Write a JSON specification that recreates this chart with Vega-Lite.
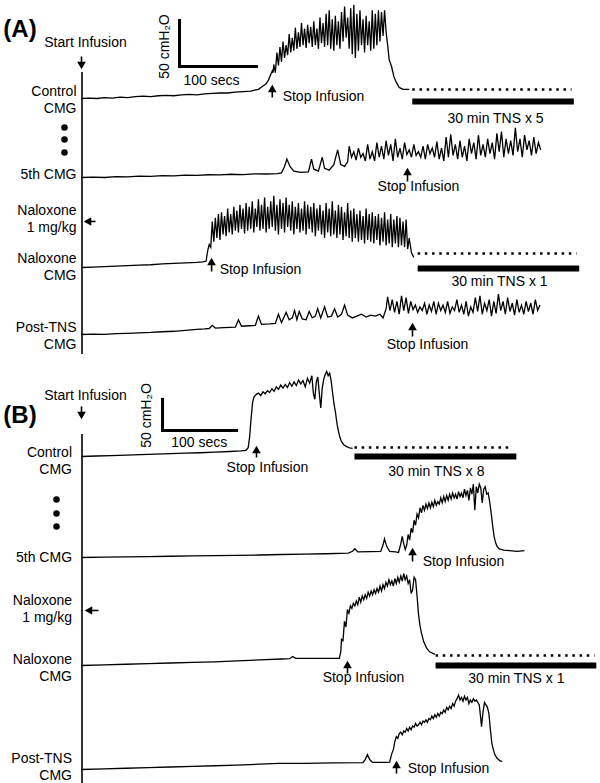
{
"$schema": "https://vega.github.io/schema/vega-lite/v6.json",
"padding": {"left": 2.5, "top": 1.5, "right": 0, "bottom": 0},
"config": {"view": {"stroke": null}, "font": "Liberation Sans"},
"datasets": {
"A1": [{"t":0,"p":8},{"t":10,"p":8.5},{"t":20,"p":8},{"t":30,"p":9},{"t":40,"p":8.5},{"t":50,"p":9.5},{"t":60,"p":9},{"t":70,"p":10},{"t":80,"p":10.5},{"t":90,"p":10},{"t":100,"p":11},{"t":110,"p":11.5},{"t":120,"p":11},{"t":130,"p":12},{"t":140,"p":12.5},{"t":150,"p":12},{"t":160,"p":13},{"t":170,"p":13.5},{"t":180,"p":14},{"t":190,"p":14},{"t":200,"p":15},{"t":210,"p":15.5},{"t":220,"p":16},{"t":225,"p":17},{"t":230,"p":18},{"t":235,"p":21},{"t":240,"p":24},{"t":243,"p":28},{"t":246,"p":34},{"t":248,"p":38},{"t":249,"p":36},
{"t":250,"p":45},{"t":252,"p":36},{"t":254,"p":58},{"t":256,"p":44},{"t":258,"p":64},{"t":260,"p":48},{"t":262,"p":70},{"t":264,"p":52},{"t":266,"p":66},{"t":268,"p":55},{"t":270,"p":78},{"t":272,"p":58},{"t":274,"p":74},{"t":276,"p":60},{"t":278,"p":85},{"t":280,"p":62},{"t":282,"p":80},{"t":284,"p":64},{"t":286,"p":90},{"t":288,"p":66},{"t":290,"p":84},{"t":292,"p":63},{"t":294,"p":88},{"t":296,"p":68},{"t":298,"p":86},{"t":300,"p":64},{"t":302,"p":92},{"t":304,"p":66},{"t":306,"p":84},{"t":308,"p":62},{"t":310,"p":96},{"t":312,"p":68},{"t":314,"p":90},{"t":316,"p":64},{"t":318,"p":100},{"t":320,"p":66},{"t":322,"p":104},{"t":324,"p":62},{"t":326,"p":94},{"t":328,"p":60},{"t":330,"p":98},{"t":332,"p":66},{"t":334,"p":92},{"t":336,"p":62},{"t":338,"p":102},{"t":340,"p":70},{"t":342,"p":108},{"t":344,"p":74},{"t":346,"p":96},{"t":348,"p":62},{"t":350,"p":106},{"t":352,"p":56},{"t":354,"p":110},{"t":356,"p":52},{"t":358,"p":100},{"t":360,"p":60},{"t":362,"p":104},{"t":364,"p":66},{"t":366,"p":94},{"t":368,"p":58},{"t":370,"p":98},{"t":372,"p":66},{"t":374,"p":92},{"t":376,"p":60},{"t":378,"p":104},{"t":380,"p":62},{"t":382,"p":100},{"t":384,"p":66},{"t":386,"p":104},{"t":388,"p":70},{"t":390,"p":102},{"t":392,"p":76},{"t":394,"p":104},{"t":396,"p":80},{"t":398,"p":66},{"t":400,"p":50},{"t":403,"p":43},{"t":406,"p":32},{"t":409,"p":26},{"t":413,"p":20},{"t":418,"p":18},{"t":426,"p":18}],
"A2": [{"t":0,"p":8},{"t":15,"p":8.5},{"t":30,"p":8},{"t":45,"p":9},{"t":60,"p":8.7},{"t":75,"p":9.5},{"t":90,"p":9.2},{"t":105,"p":10},{"t":120,"p":9.8},{"t":135,"p":10.5},{"t":150,"p":10.2},{"t":165,"p":11},{"t":180,"p":10.8},{"t":195,"p":11.5},{"t":210,"p":11.2},{"t":225,"p":12},{"t":240,"p":11.8},{"t":255,"p":12.3},{"t":260,"p":13},{"t":264,"p":20},{"t":267,"p":28},{"t":271,"p":20},{"t":276,"p":15},{"t":285,"p":13.5},{"t":295,"p":14},{"t":299,"p":28},{"t":302,"p":17},{"t":308,"p":15},{"t":313,"p":30},{"t":316,"p":18},{"t":322,"p":16},{"t":328,"p":22},{"t":333,"p":38},{"t":337,"p":22},{"t":342,"p":20},{"t":346,"p":25},{"t":348,"p":42},{"t":351,"p":30},{"t":354,"p":36},{"t":357,"p":27},{"t":360,"p":40},{"t":363,"p":30},{"t":366,"p":34},{"t":369,"p":26},{"t":372,"p":44},{"t":375,"p":28},{"t":378,"p":36},{"t":381,"p":26},{"t":384,"p":46},{"t":387,"p":30},{"t":390,"p":42},{"t":393,"p":28},{"t":396,"p":48},{"t":399,"p":32},{"t":402,"p":44},{"t":405,"p":26},{"t":408,"p":50},{"t":411,"p":30},{"t":414,"p":40},{"t":417,"p":28},{"t":420,"p":46},{"t":423,"p":33},{"t":426,"p":38},{"t":429,"p":30},{"t":432,"p":44},{"t":435,"p":32},{"t":438,"p":36},{"t":441,"p":30},{"t":444,"p":42},{"t":447,"p":28},{"t":450,"p":44},{"t":453,"p":34},{"t":456,"p":40},{"t":459,"p":30},{"t":462,"p":47},{"t":465,"p":28},{"t":468,"p":40},{"t":471,"p":26},{"t":474,"p":52},{"t":477,"p":30},{"t":480,"p":55},{"t":483,"p":32},{"t":486,"p":44},{"t":489,"p":28},{"t":492,"p":48},{"t":495,"p":30},{"t":498,"p":42},{"t":501,"p":26},{"t":504,"p":50},{"t":507,"p":34},{"t":510,"p":46},{"t":513,"p":28},{"t":516,"p":54},{"t":519,"p":32},{"t":522,"p":44},{"t":525,"p":30},{"t":528,"p":50},{"t":531,"p":34},{"t":534,"p":46},{"t":537,"p":28},{"t":540,"p":56},{"t":543,"p":36},{"t":546,"p":58},{"t":549,"p":30},{"t":552,"p":50},{"t":555,"p":34},{"t":558,"p":48},{"t":561,"p":32},{"t":564,"p":62},{"t":567,"p":36},{"t":570,"p":50},{"t":573,"p":30},{"t":576,"p":54},{"t":579,"p":38},{"t":582,"p":48},{"t":585,"p":32},{"t":588,"p":52},{"t":591,"p":34},{"t":594,"p":46},{"t":597,"p":38}],
"A3": [{"t":0,"p":8},{"t":15,"p":8.5},{"t":30,"p":9},{"t":45,"p":9.5},{"t":60,"p":10},{"t":75,"p":10.5},{"t":90,"p":11},{"t":105,"p":12},{"t":120,"p":12.5},{"t":135,"p":13},{"t":150,"p":13.5},{"t":158,"p":14},{"t":162,"p":15},{"t":164,"p":26},{"t":166,"p":33},{"t":168,"p":30},{"t":170,"p":58},{"t":172,"p":36},{"t":174,"p":62},{"t":176,"p":40},{"t":178,"p":66},{"t":180,"p":38},{"t":182,"p":68},{"t":184,"p":44},{"t":186,"p":64},{"t":188,"p":42},{"t":190,"p":72},{"t":192,"p":46},{"t":194,"p":66},{"t":196,"p":44},{"t":198,"p":74},{"t":200,"p":48},{"t":202,"p":70},{"t":204,"p":46},{"t":206,"p":76},{"t":208,"p":50},{"t":210,"p":72},{"t":212,"p":45},{"t":214,"p":78},{"t":216,"p":48},{"t":218,"p":74},{"t":220,"p":50},{"t":222,"p":80},{"t":224,"p":46},{"t":226,"p":72},{"t":228,"p":52},{"t":230,"p":82},{"t":232,"p":48},{"t":234,"p":76},{"t":236,"p":50},{"t":238,"p":84},{"t":240,"p":46},{"t":242,"p":74},{"t":244,"p":50},{"t":246,"p":80},{"t":248,"p":52},{"t":250,"p":86},{"t":252,"p":48},{"t":254,"p":76},{"t":256,"p":44},{"t":258,"p":82},{"t":260,"p":50},{"t":262,"p":78},{"t":264,"p":46},{"t":266,"p":84},{"t":268,"p":52},{"t":270,"p":76},{"t":272,"p":48},{"t":274,"p":80},{"t":276,"p":44},{"t":278,"p":74},{"t":280,"p":50},{"t":282,"p":78},{"t":284,"p":46},{"t":286,"p":72},{"t":288,"p":48},{"t":290,"p":80},{"t":292,"p":44},{"t":294,"p":76},{"t":296,"p":50},{"t":298,"p":74},{"t":300,"p":46},{"t":302,"p":78},{"t":304,"p":42},{"t":306,"p":72},{"t":308,"p":48},{"t":310,"p":76},{"t":312,"p":44},{"t":314,"p":70},{"t":316,"p":40},{"t":318,"p":78},{"t":320,"p":46},{"t":322,"p":72},{"t":324,"p":42},{"t":326,"p":80},{"t":328,"p":44},{"t":330,"p":70},{"t":332,"p":40},{"t":334,"p":76},{"t":336,"p":44},{"t":338,"p":74},{"t":340,"p":38},{"t":342,"p":68},{"t":344,"p":42},{"t":346,"p":78},{"t":348,"p":40},{"t":350,"p":70},{"t":352,"p":36},{"t":354,"p":72},{"t":356,"p":40},{"t":358,"p":66},{"t":360,"p":36},{"t":362,"p":70},{"t":364,"p":38},{"t":366,"p":64},{"t":368,"p":34},{"t":370,"p":72},{"t":372,"p":38},{"t":374,"p":66},{"t":376,"p":36},{"t":378,"p":68},{"t":380,"p":34},{"t":382,"p":64},{"t":384,"p":38},{"t":386,"p":66},{"t":388,"p":32},{"t":390,"p":62},{"t":392,"p":36},{"t":394,"p":68},{"t":396,"p":32},{"t":398,"p":60},{"t":400,"p":34},{"t":402,"p":66},{"t":404,"p":30},{"t":406,"p":60},{"t":408,"p":34},{"t":410,"p":64},{"t":412,"p":30},{"t":414,"p":62},{"t":416,"p":32},{"t":418,"p":58},{"t":420,"p":30},{"t":422,"p":60},{"t":424,"p":28},{"t":426,"p":40},{"t":429,"p":24},{"t":432,"p":19}],
"A4": [{"t":0,"p":8},{"t":15,"p":8.5},{"t":30,"p":8.2},{"t":45,"p":9},{"t":60,"p":9.3},{"t":75,"p":9.8},{"t":90,"p":10.2},{"t":105,"p":11},{"t":120,"p":11.5},{"t":135,"p":12.5},{"t":150,"p":13.5},{"t":160,"p":14},{"t":166,"p":14.5},{"t":170,"p":18},{"t":174,"p":15},{"t":185,"p":15.5},{"t":200,"p":16},{"t":204,"p":24},{"t":208,"p":17},{"t":218,"p":17.5},{"t":226,"p":18},{"t":230,"p":28},{"t":234,"p":19},{"t":245,"p":19.5},{"t":252,"p":20},{"t":256,"p":30},{"t":260,"p":21},{"t":266,"p":32},{"t":270,"p":24},{"t":274,"p":26},{"t":277,"p":34},{"t":280,"p":24},{"t":283,"p":33},{"t":287,"p":25},{"t":292,"p":24},{"t":296,"p":33},{"t":300,"p":26},{"t":304,"p":28},{"t":307,"p":36},{"t":311,"p":26},{"t":316,"p":38},{"t":320,"p":27},{"t":325,"p":28},{"t":329,"p":36},{"t":333,"p":27},{"t":338,"p":30},{"t":342,"p":40},{"t":346,"p":29},{"t":352,"p":26},{"t":358,"p":28},{"t":364,"p":30},{"t":370,"p":27},{"t":376,"p":29},{"t":382,"p":28},{"t":388,"p":30},{"t":392,"p":26},{"t":396,"p":36},{"t":398,"p":49},{"t":401,"p":34},{"t":404,"p":46},{"t":407,"p":32},{"t":410,"p":44},{"t":413,"p":30},{"t":416,"p":50},{"t":419,"p":34},{"t":422,"p":48},{"t":425,"p":31},{"t":428,"p":44},{"t":431,"p":35},{"t":434,"p":40},{"t":437,"p":32},{"t":440,"p":38},{"t":443,"p":34},{"t":446,"p":42},{"t":449,"p":30},{"t":452,"p":40},{"t":455,"p":33},{"t":458,"p":44},{"t":461,"p":30},{"t":464,"p":42},{"t":467,"p":34},{"t":470,"p":40},{"t":473,"p":32},{"t":476,"p":44},{"t":479,"p":31},{"t":482,"p":38},{"t":485,"p":34},{"t":488,"p":46},{"t":491,"p":32},{"t":494,"p":40},{"t":497,"p":30},{"t":500,"p":44},{"t":503,"p":28},{"t":506,"p":38},{"t":509,"p":32},{"t":512,"p":48},{"t":515,"p":33},{"t":518,"p":50},{"t":521,"p":30},{"t":524,"p":42},{"t":527,"p":34},{"t":530,"p":46},{"t":533,"p":28},{"t":536,"p":44},{"t":539,"p":31},{"t":542,"p":52},{"t":545,"p":34},{"t":548,"p":44},{"t":551,"p":30},{"t":554,"p":48},{"t":557,"p":33},{"t":560,"p":42},{"t":563,"p":29},{"t":566,"p":46},{"t":569,"p":32},{"t":572,"p":40},{"t":575,"p":30},{"t":578,"p":44},{"t":581,"p":33},{"t":584,"p":42},{"t":587,"p":30},{"t":590,"p":46},{"t":593,"p":34},{"t":596,"p":40}],
"B1": [{"t":0,"p":8},{"t":20,"p":8.8},{"t":40,"p":9.5},{"t":60,"p":10.2},{"t":80,"p":11},{"t":100,"p":11.8},{"t":120,"p":12.5},{"t":140,"p":13.3},{"t":160,"p":14},{"t":180,"p":15},{"t":200,"p":16},{"t":215,"p":17},{"t":222,"p":18},{"t":225,"p":22},{"t":227,"p":40},{"t":229,"p":70},{"t":231,"p":95},{"t":233,"p":104},{"t":236,"p":108},{"t":239,"p":110},{"t":242,"p":106},{"t":245,"p":112},{"t":248,"p":109},{"t":251,"p":114},{"t":254,"p":111},{"t":257,"p":117},{"t":260,"p":113},{"t":263,"p":120},{"t":266,"p":116},{"t":269,"p":123},{"t":272,"p":118},{"t":275,"p":124},{"t":278,"p":119},{"t":281,"p":127},{"t":284,"p":121},{"t":287,"p":128},{"t":290,"p":122},{"t":293,"p":131},{"t":296,"p":125},{"t":299,"p":130},{"t":302,"p":120},{"t":305,"p":134},{"t":308,"p":126},{"t":311,"p":138},{"t":313,"p":110},{"t":315,"p":100},{"t":317,"p":128},{"t":319,"p":136},{"t":321,"p":110},{"t":323,"p":86},{"t":325,"p":118},{"t":327,"p":132},{"t":329,"p":140},{"t":331,"p":145},{"t":333,"p":138},{"t":335,"p":142},{"t":337,"p":130},{"t":339,"p":110},{"t":341,"p":92},{"t":343,"p":78},{"t":345,"p":60},{"t":347,"p":48},{"t":349,"p":38},{"t":351,"p":32},{"t":354,"p":27},{"t":358,"p":24},{"t":362,"p":22},{"t":366,"p":21}],
"B2": [{"t":0,"p":8},{"t":30,"p":8.5},{"t":60,"p":9},{"t":90,"p":9.5},{"t":120,"p":10},{"t":150,"p":10.5},{"t":180,"p":11},{"t":210,"p":11.5},{"t":240,"p":12},{"t":270,"p":12.8},{"t":300,"p":13.5},{"t":330,"p":14},{"t":360,"p":15},{"t":366,"p":18},{"t":369,"p":22},{"t":373,"p":17},{"t":390,"p":17.5},{"t":404,"p":18},{"t":407,"p":28},{"t":409,"p":38},{"t":412,"p":26},{"t":416,"p":18},{"t":424,"p":17},{"t":428,"p":16},{"t":431,"p":30},{"t":433,"p":42},{"t":435,"p":30},{"t":437,"p":21},{"t":439,"p":28},{"t":441,"p":45},{"t":443,"p":36},{"t":445,"p":55},{"t":447,"p":48},{"t":449,"p":68},{"t":451,"p":60},{"t":453,"p":78},{"t":455,"p":72},{"t":457,"p":88},{"t":459,"p":80},{"t":461,"p":92},{"t":463,"p":84},{"t":465,"p":94},{"t":467,"p":87},{"t":469,"p":96},{"t":471,"p":88},{"t":473,"p":97},{"t":475,"p":90},{"t":477,"p":100},{"t":479,"p":92},{"t":481,"p":98},{"t":483,"p":94},{"t":485,"p":104},{"t":487,"p":96},{"t":489,"p":106},{"t":491,"p":98},{"t":493,"p":108},{"t":495,"p":100},{"t":497,"p":110},{"t":499,"p":102},{"t":501,"p":112},{"t":503,"p":104},{"t":505,"p":110},{"t":507,"p":102},{"t":509,"p":114},{"t":511,"p":106},{"t":513,"p":112},{"t":515,"p":104},{"t":517,"p":118},{"t":519,"p":108},{"t":521,"p":116},{"t":523,"p":100},{"t":525,"p":120},{"t":527,"p":110},{"t":529,"p":126},{"t":531,"p":84},{"t":533,"p":122},{"t":535,"p":112},{"t":537,"p":126},{"t":539,"p":120},{"t":541,"p":96},{"t":543,"p":118},{"t":545,"p":122},{"t":547,"p":110},{"t":549,"p":112},{"t":551,"p":98},{"t":553,"p":80},{"t":555,"p":60},{"t":557,"p":42},{"t":559,"p":32},{"t":561,"p":26},{"t":564,"p":22},{"t":570,"p":20},{"t":578,"p":19},{"t":588,"p":18},{"t":598,"p":19}],
"B3": [{"t":0,"p":8},{"t":30,"p":9},{"t":60,"p":10},{"t":90,"p":11},{"t":120,"p":12},{"t":150,"p":13},{"t":180,"p":14},{"t":210,"p":15.5},{"t":240,"p":17},{"t":270,"p":18.5},{"t":281,"p":19},{"t":285,"p":22.5},{"t":289,"p":19.5},{"t":320,"p":19.5},{"t":348,"p":19.5},{"t":350,"p":30},{"t":351,"p":50},{"t":353,"p":48},{"t":355,"p":79},{"t":357,"p":70},{"t":359,"p":98},{"t":361,"p":92},{"t":363,"p":104},{"t":365,"p":100},{"t":367,"p":108},{"t":369,"p":104},{"t":371,"p":112},{"t":373,"p":106},{"t":375,"p":118},{"t":377,"p":110},{"t":379,"p":120},{"t":381,"p":114},{"t":383,"p":122},{"t":385,"p":116},{"t":387,"p":126},{"t":389,"p":120},{"t":391,"p":128},{"t":393,"p":122},{"t":395,"p":130},{"t":397,"p":124},{"t":399,"p":132},{"t":401,"p":126},{"t":403,"p":136},{"t":405,"p":128},{"t":407,"p":138},{"t":409,"p":132},{"t":411,"p":142},{"t":413,"p":136},{"t":415,"p":146},{"t":417,"p":138},{"t":419,"p":144},{"t":421,"p":136},{"t":423,"p":148},{"t":425,"p":140},{"t":427,"p":150},{"t":429,"p":142},{"t":431,"p":152},{"t":433,"p":144},{"t":435,"p":156},{"t":437,"p":146},{"t":439,"p":152},{"t":441,"p":140},{"t":443,"p":146},{"t":445,"p":124},{"t":447,"p":130},{"t":449,"p":150},{"t":451,"p":146},{"t":453,"p":120},{"t":455,"p":90},{"t":457,"p":72},{"t":459,"p":60},{"t":462,"p":46},{"t":466,"p":36},{"t":470,"p":30},{"t":477,"p":26}],
"B4": [{"t":0,"p":8},{"t":30,"p":9},{"t":60,"p":10},{"t":90,"p":11},{"t":120,"p":12},{"t":150,"p":13},{"t":180,"p":14},{"t":210,"p":15},{"t":240,"p":16.5},{"t":267,"p":17.7},{"t":300,"p":18},{"t":340,"p":18.5},{"t":380,"p":19},{"t":383,"p":24},{"t":386,"p":32},{"t":389,"p":24},{"t":393,"p":19.5},{"t":410,"p":19.5},{"t":416,"p":20},{"t":419,"p":34},{"t":421,"p":40},{"t":423,"p":53},{"t":425,"p":61},{"t":427,"p":58},{"t":429,"p":66},{"t":431,"p":68},{"t":433,"p":64},{"t":435,"p":70},{"t":437,"p":68},{"t":439,"p":74},{"t":441,"p":70},{"t":443,"p":76},{"t":445,"p":72},{"t":447,"p":78},{"t":449,"p":76},{"t":451,"p":82},{"t":453,"p":78},{"t":455,"p":80},{"t":457,"p":84},{"t":459,"p":80},{"t":461,"p":86},{"t":463,"p":84},{"t":465,"p":88},{"t":467,"p":84},{"t":469,"p":90},{"t":471,"p":88},{"t":473,"p":94},{"t":475,"p":90},{"t":477,"p":96},{"t":479,"p":92},{"t":481,"p":98},{"t":483,"p":94},{"t":485,"p":100},{"t":487,"p":98},{"t":489,"p":104},{"t":491,"p":100},{"t":493,"p":108},{"t":495,"p":104},{"t":497,"p":110},{"t":499,"p":106},{"t":501,"p":114},{"t":503,"p":110},{"t":505,"p":118},{"t":507,"p":122},{"t":509,"p":128},{"t":511,"p":120},{"t":513,"p":124},{"t":515,"p":118},{"t":517,"p":126},{"t":519,"p":120},{"t":521,"p":124},{"t":523,"p":114},{"t":525,"p":120},{"t":527,"p":116},{"t":529,"p":122},{"t":531,"p":118},{"t":533,"p":120},{"t":535,"p":116},{"t":537,"p":112},{"t":539,"p":90},{"t":540,"p":77},{"t":542,"p":100},{"t":544,"p":116},{"t":546,"p":112},{"t":548,"p":108},{"t":550,"p":98},{"t":552,"p":72},{"t":554,"p":50},{"t":556,"p":40},{"t":558,"p":32},{"t":561,"p":26},{"t":565,"p":22},{"t":568,"p":21}],
"tns": [
{"panel":"A1","kind":"dot","t":430,"t2":637,"p":17.8},
{"panel":"A1","kind":"bar","t":430,"t2":640,"p":4.7},
{"panel":"A3","kind":"dot","t":437,"t2":643.5,"p":23.2},
{"panel":"A3","kind":"bar","t":437,"t2":647,"p":6.9},
{"panel":"B1","kind":"dot","t":368.5,"t2":582,"p":22.5},
{"panel":"B1","kind":"bar","t":368.5,"t2":587,"p":8},
{"panel":"B3","kind":"dot","t":478,"t2":692.5,"p":24.1},
{"panel":"B3","kind":"bar","t":478,"t2":695,"p":8}],
"shafts": [
{"panel":"A1","t":0,"t2":0,"p":53.7,"p2":43.9},
{"panel":"A1","t":248,"t2":248,"p":9.1,"p2":18.9},
{"panel":"A2","t":423.8,"t2":423.8,"p":3.65,"p2":14.5},
{"panel":"A3","t":169.1,"t2":169.1,"p":3.65,"p2":14.5},
{"panel":"A3","t":18.2,"t2":7.8,"p":58,"p2":58},
{"panel":"A4","t":430.3,"t2":430.3,"p":5.8,"p2":16.7},
{"panel":"B1","t":0,"t2":0,"p":88.5,"p2":74},
{"panel":"B1","t":236.25,"t2":236.25,"p":6.4,"p2":19.3},
{"panel":"B2","t":446.9,"t2":446.9,"p":1.6,"p2":17.7},
{"panel":"B3","t":359.1,"t2":359.1,"p":-4.9,"p2":9.6},
{"panel":"B3","t":22.95,"t2":9.45,"p":96.6,"p2":96.6},
{"panel":"B4","t":425.25,"t2":425.25,"p":1.6,"p2":16.05}],
"heads": [
{"panel":"A1","t":0,"p":43.9,"dir":"down"},
{"panel":"A1","t":248,"p":18.9,"dir":"up"},
{"panel":"A2","t":423.8,"p":14.5,"dir":"up"},
{"panel":"A3","t":169.1,"p":14.5,"dir":"up"},
{"panel":"A3","t":7.8,"p":58,"dir":"left"},
{"panel":"A4","t":430.3,"p":16.7,"dir":"up"},
{"panel":"B1","t":0,"p":74,"dir":"down"},
{"panel":"B1","t":236.25,"p":19.3,"dir":"up"},
{"panel":"B2","t":446.9,"p":17.7,"dir":"up"},
{"panel":"B3","t":359.1,"p":9.6,"dir":"up"},
{"panel":"B3","t":9.45,"p":96.6,"dir":"left"},
{"panel":"B4","t":425.25,"p":16.05,"dir":"up"}],
"scalebars": [
{"panel":"A1","t":127.4,"t2":127.4,"p":42.8,"p2":92.8},
{"panel":"A1","t":127.4,"t2":227.4,"p":42.8,"p2":42.8},
{"panel":"B1","t":109.4,"t2":109.4,"p":49.9,"p2":99.9},
{"panel":"B1","t":109.4,"t2":209.4,"p":49.9,"p2":49.9}],
"dots": [
{"panel":"A2","t":-22.1,"p":62.4},{"panel":"A2","t":-22.1,"p":49.3},{"panel":"A2","t":-22.1,"p":35.2},
{"panel":"B2","t":-33.75,"p":101.4},{"panel":"B2","t":-33.75,"p":78.8},{"panel":"B2","t":-33.75,"p":57.9}],
"texts": [
{"panel":"A1","kind":"letter","t":-80,"p":82,"txt":"(A)"},
{"panel":"A1","kind":"note","t":5.2,"p":68.3,"txt":"Start Infusion"},
{"panel":"A1","kind":"note","t":169,"p":26.5,"txt":"100 secs"},
{"panel":"A1","kind":"vert","t":108,"p":64.5,"txt":"50 cmH₂O"},
{"panel":"A1","kind":"label","t":-6.5,"p":15.6,"txt":["Control","CMG"]},
{"panel":"A1","kind":"note","t":314.6,"p":9.1,"txt":"Stop Infusion"},
{"panel":"A1","kind":"note","t":538.2,"p":-14.8,"txt":"30 min TNS x 5"},
{"panel":"A2","kind":"label","t":-6.5,"p":10.2,"txt":"5th CMG"},
{"panel":"A2","kind":"note","t":438,"p":-1.8,"txt":"Stop Infusion"},
{"panel":"A3","kind":"label","t":-6.5,"p":69.9,"txt":["Naloxone","1 mg/kg"]},
{"panel":"A3","kind":"label","t":-6.5,"p":16.7,"txt":["Naloxone","CMG"]},
{"panel":"A3","kind":"note","t":232.7,"p":5.8,"txt":"Stop Infusion"},
{"panel":"A3","kind":"note","t":543.4,"p":-8.3,"txt":"30 min TNS x 1"},
{"panel":"A4","kind":"label","t":-6.5,"p":15.0,"txt":["Post-TNS","CMG"]},
{"panel":"A4","kind":"note","t":449.8,"p":-2.9,"txt":"Stop Infusion"},
{"panel":"B1","kind":"letter","t":-83,"p":72.4,"txt":"(B)"},
{"panel":"B1","kind":"note","t":5.4,"p":105.4,"txt":"Start Infusion"},
{"panel":"B1","kind":"note","t":159,"p":30.5,"txt":"100 secs"},
{"panel":"B1","kind":"vert","t":89,"p":74,"txt":"50 cmH₂O"},
{"panel":"B1","kind":"label","t":-12.8,"p":13.7,"txt":["Control","CMG"]},
{"panel":"B1","kind":"note","t":251,"p":-11.3,"txt":"Stop Infusion"},
{"panel":"B1","kind":"note","t":479,"p":-16.2,"txt":"30 min TNS x 8"},
{"panel":"B2","kind":"label","t":-12.8,"p":6.4,"txt":"5th CMG"},
{"panel":"B2","kind":"note","t":515.7,"p":0,"txt":"Stop Infusion"},
{"panel":"B3","kind":"label","t":-12.8,"p":111.1,"txt":["Naloxone","1 mg/kg"]},
{"panel":"B3","kind":"label","t":-12.8,"p":16.1,"txt":["Naloxone","CMG"]},
{"panel":"B3","kind":"note","t":380.7,"p":-12.9,"txt":"Stop Infusion"},
{"panel":"B3","kind":"note","t":587,"p":-14.5,"txt":"30 min TNS x 1"},
{"panel":"B4","kind":"label","t":-12.8,"p":24.1,"txt":["Post-TNS","CMG"]},
{"panel":"B4","kind":"note","t":495.5,"p":8,"txt":"Stop Infusion"}]
},
"spacing": 0,
"bounds": "flush",
"vconcat": [
{"width": 500, "height": 35,
 "encoding": {"x": {"field":"t","type":"quantitative","scale":{"domain":[0,650],"nice":false,"zero":false},"axis":null},
  "y": {"field":"p","type":"quantitative","scale":{"domain":[-0.7,37.35],"nice":false,"zero":false},"axis":{"domain":true,"domainColor":"black","domainWidth":1.6,"ticks":false,"labels":false,"grid":false,"title":null}}},
 "layer": [
  {"data":{"name":"A1"},"mark":{"type":"line","color":"black","strokeWidth":1.3}},
  {"data":{"name":"tns"},"transform":[{"filter":"datum.panel==='A1'&&datum.kind==='dot'"}],"mark":{"type":"rule","color":"black","strokeWidth":2.5,"strokeDash":[2.5,4.7]},"encoding":{"x2":{"field":"t2"}}},
  {"data":{"name":"tns"},"transform":[{"filter":"datum.panel==='A1'&&datum.kind==='bar'"}],"mark":{"type":"rule","color":"black","strokeWidth":6},"encoding":{"x2":{"field":"t2"}}},
  {"data":{"name":"scalebars"},"transform":[{"filter":"datum.panel==='A1'"}],"mark":{"type":"rule","color":"black","strokeWidth":3,"strokeCap":"square"},"encoding":{"x2":{"field":"t2"},"y2":{"field":"p2"}}},
  {"data":{"name":"shafts"},"transform":[{"filter":"datum.panel==='A1'"}],"mark":{"type":"rule","color":"black","strokeWidth":1.6},"encoding":{"x2":{"field":"t2"},"y2":{"field":"p2"}}},
  {"data":{"name":"heads"},"transform":[{"filter":"datum.panel==='A1'"}],"mark":{"type":"point","filled":true,"opacity":1,"color":"black","size":75},"encoding":{"shape":{"field":"dir","type":"nominal","scale":{"domain":["up","down","left"],"range":["triangle-up","triangle-down","triangle-left"]},"legend":null}}},
  {"data":{"name":"texts"},"transform":[{"filter":"datum.panel==='A1'&&datum.kind==='note'"}],"mark":{"type":"text","color":"black","fontSize":14,"align":"center","baseline":"middle"},"encoding":{"text":{"field":"txt","type":"nominal"}}},
  {"data":{"name":"texts"},"transform":[{"filter":"datum.panel==='A1'&&datum.kind==='label'"}],"mark":{"type":"text","color":"black","fontSize":14,"align":"right","baseline":"middle","lineHeight":17},"encoding":{"text":{"field":"txt","type":"nominal"}}},
  {"data":{"name":"texts"},"transform":[{"filter":"datum.panel==='A1'&&datum.kind==='letter'"}],"mark":{"type":"text","color":"black","fontSize":24,"fontWeight":"bold","align":"center","baseline":"middle"},"encoding":{"text":{"field":"txt","type":"nominal"}}},
  {"data":{"name":"texts"},"transform":[{"filter":"datum.panel==='A1'&&datum.kind==='vert'"}],"mark":{"type":"text","color":"black","fontSize":14,"angle":270,"align":"center","baseline":"middle"},"encoding":{"text":{"field":"txt","type":"nominal"}}}
 ]},
{"width": 500, "height": 80,
 "encoding": {"x": {"field":"t","type":"quantitative","scale":{"domain":[0,650],"nice":false,"zero":false},"axis":null},
  "y": {"field":"p","type":"quantitative","scale":{"domain":[-1.8,85.2],"nice":false,"zero":false},"axis":{"domain":true,"domainColor":"black","domainWidth":1.6,"ticks":false,"labels":false,"grid":false,"title":null}}},
 "layer": [
  {"data":{"name":"A2"},"mark":{"type":"line","color":"black","strokeWidth":1.3}},
  {"data":{"name":"shafts"},"transform":[{"filter":"datum.panel==='A2'"}],"mark":{"type":"rule","color":"black","strokeWidth":1.6},"encoding":{"x2":{"field":"t2"},"y2":{"field":"p2"}}},
  {"data":{"name":"heads"},"transform":[{"filter":"datum.panel==='A2'"}],"mark":{"type":"point","filled":true,"opacity":1,"color":"black","size":75},"encoding":{"shape":{"field":"dir","type":"nominal","scale":{"domain":["up","down","left"],"range":["triangle-up","triangle-down","triangle-left"]},"legend":null}}},
  {"data":{"name":"dots"},"transform":[{"filter":"datum.panel==='A2'"}],"mark":{"type":"point","filled":true,"opacity":1,"color":"black","size":42}},
  {"data":{"name":"texts"},"transform":[{"filter":"datum.panel==='A2'&&datum.kind==='note'"}],"mark":{"type":"text","color":"black","fontSize":14,"align":"center","baseline":"middle"},"encoding":{"text":{"field":"txt","type":"nominal"}}},
  {"data":{"name":"texts"},"transform":[{"filter":"datum.panel==='A2'&&datum.kind==='label'"}],"mark":{"type":"text","color":"black","fontSize":14,"align":"right","baseline":"middle","lineHeight":17},"encoding":{"text":{"field":"txt","type":"nominal"}}}
 ]},
{"width": 500, "height": 89,
 "encoding": {"x": {"field":"t","type":"quantitative","scale":{"domain":[0,650],"nice":false,"zero":false},"axis":null},
  "y": {"field":"p","type":"quantitative","scale":{"domain":[-0.7,96.0],"nice":false,"zero":false},"axis":{"domain":true,"domainColor":"black","domainWidth":1.6,"ticks":false,"labels":false,"grid":false,"title":null}}},
 "layer": [
  {"data":{"name":"A3"},"mark":{"type":"line","color":"black","strokeWidth":1.3}},
  {"data":{"name":"tns"},"transform":[{"filter":"datum.panel==='A3'&&datum.kind==='dot'"}],"mark":{"type":"rule","color":"black","strokeWidth":2.5,"strokeDash":[2.5,4.7]},"encoding":{"x2":{"field":"t2"}}},
  {"data":{"name":"tns"},"transform":[{"filter":"datum.panel==='A3'&&datum.kind==='bar'"}],"mark":{"type":"rule","color":"black","strokeWidth":6},"encoding":{"x2":{"field":"t2"}}},
  {"data":{"name":"shafts"},"transform":[{"filter":"datum.panel==='A3'"}],"mark":{"type":"rule","color":"black","strokeWidth":1.6},"encoding":{"x2":{"field":"t2"},"y2":{"field":"p2"}}},
  {"data":{"name":"heads"},"transform":[{"filter":"datum.panel==='A3'"}],"mark":{"type":"point","filled":true,"opacity":1,"color":"black","size":75},"encoding":{"shape":{"field":"dir","type":"nominal","scale":{"domain":["up","down","left"],"range":["triangle-up","triangle-down","triangle-left"]},"legend":null}}},
  {"data":{"name":"texts"},"transform":[{"filter":"datum.panel==='A3'&&datum.kind==='note'"}],"mark":{"type":"text","color":"black","fontSize":14,"align":"center","baseline":"middle"},"encoding":{"text":{"field":"txt","type":"nominal"}}},
  {"data":{"name":"texts"},"transform":[{"filter":"datum.panel==='A3'&&datum.kind==='label'"}],"mark":{"type":"text","color":"black","fontSize":14,"align":"right","baseline":"middle","lineHeight":17},"encoding":{"text":{"field":"txt","type":"nominal"}}}
 ]},
{"width": 500, "height": 78,
 "encoding": {"x": {"field":"t","type":"quantitative","scale":{"domain":[0,650],"nice":false,"zero":false},"axis":null},
  "y": {"field":"p","type":"quantitative","scale":{"domain":[-12.65,72.1],"nice":false,"zero":false},"axis":{"domain":true,"domainColor":"black","domainWidth":1.6,"ticks":false,"labels":false,"grid":false,"title":null}}},
 "layer": [
  {"data":{"name":"A4"},"mark":{"type":"line","color":"black","strokeWidth":1.3}},
  {"data":{"name":"shafts"},"transform":[{"filter":"datum.panel==='A4'"}],"mark":{"type":"rule","color":"black","strokeWidth":1.6},"encoding":{"x2":{"field":"t2"},"y2":{"field":"p2"}}},
  {"data":{"name":"heads"},"transform":[{"filter":"datum.panel==='A4'"}],"mark":{"type":"point","filled":true,"opacity":1,"color":"black","size":75},"encoding":{"shape":{"field":"dir","type":"nominal","scale":{"domain":["up","down","left"],"range":["triangle-up","triangle-down","triangle-left"]},"legend":null}}},
  {"data":{"name":"texts"},"transform":[{"filter":"datum.panel==='A4'&&datum.kind==='note'"}],"mark":{"type":"text","color":"black","fontSize":14,"align":"center","baseline":"middle"},"encoding":{"text":{"field":"txt","type":"nominal"}}},
  {"data":{"name":"texts"},"transform":[{"filter":"datum.panel==='A4'&&datum.kind==='label'"}],"mark":{"type":"text","color":"black","fontSize":14,"align":"right","baseline":"middle","lineHeight":17},"encoding":{"text":{"field":"txt","type":"nominal"}}}
 ]},
{"width": 500, "height": 80, "data": {"values": []}, "mark": {"type": "point", "opacity": 0}, "encoding": {}},
{"width": 500, "height": 33,
 "encoding": {"x": {"field":"t","type":"quantitative","scale":{"domain":[0,675],"nice":false,"zero":false},"axis":null},
  "y": {"field":"p","type":"quantitative","scale":{"domain":[-8.1,45.0],"nice":false,"zero":false},"axis":{"domain":true,"domainColor":"black","domainWidth":1.6,"ticks":false,"labels":false,"grid":false,"title":null}}},
 "layer": [
  {"data":{"name":"B1"},"mark":{"type":"line","color":"black","strokeWidth":1.3}},
  {"data":{"name":"tns"},"transform":[{"filter":"datum.panel==='B1'&&datum.kind==='dot'"}],"mark":{"type":"rule","color":"black","strokeWidth":2.5,"strokeDash":[2.5,4.7]},"encoding":{"x2":{"field":"t2"}}},
  {"data":{"name":"tns"},"transform":[{"filter":"datum.panel==='B1'&&datum.kind==='bar'"}],"mark":{"type":"rule","color":"black","strokeWidth":6},"encoding":{"x2":{"field":"t2"}}},
  {"data":{"name":"scalebars"},"transform":[{"filter":"datum.panel==='B1'"}],"mark":{"type":"rule","color":"black","strokeWidth":3,"strokeCap":"square"},"encoding":{"x2":{"field":"t2"},"y2":{"field":"p2"}}},
  {"data":{"name":"shafts"},"transform":[{"filter":"datum.panel==='B1'"}],"mark":{"type":"rule","color":"black","strokeWidth":1.6},"encoding":{"x2":{"field":"t2"},"y2":{"field":"p2"}}},
  {"data":{"name":"heads"},"transform":[{"filter":"datum.panel==='B1'"}],"mark":{"type":"point","filled":true,"opacity":1,"color":"black","size":75},"encoding":{"shape":{"field":"dir","type":"nominal","scale":{"domain":["up","down","left"],"range":["triangle-up","triangle-down","triangle-left"]},"legend":null}}},
  {"data":{"name":"texts"},"transform":[{"filter":"datum.panel==='B1'&&datum.kind==='note'"}],"mark":{"type":"text","color":"black","fontSize":14,"align":"center","baseline":"middle"},"encoding":{"text":{"field":"txt","type":"nominal"}}},
  {"data":{"name":"texts"},"transform":[{"filter":"datum.panel==='B1'&&datum.kind==='label'"}],"mark":{"type":"text","color":"black","fontSize":14,"align":"right","baseline":"middle","lineHeight":17},"encoding":{"text":{"field":"txt","type":"nominal"}}},
  {"data":{"name":"texts"},"transform":[{"filter":"datum.panel==='B1'&&datum.kind==='letter'"}],"mark":{"type":"text","color":"black","fontSize":24,"fontWeight":"bold","align":"center","baseline":"middle"},"encoding":{"text":{"field":"txt","type":"nominal"}}},
  {"data":{"name":"texts"},"transform":[{"filter":"datum.panel==='B1'&&datum.kind==='vert'"}],"mark":{"type":"text","color":"black","fontSize":14,"angle":270,"align":"center","baseline":"middle"},"encoding":{"text":{"field":"txt","type":"nominal"}}}
 ]},
{"width": 500, "height": 101,
 "encoding": {"x": {"field":"t","type":"quantitative","scale":{"domain":[0,675],"nice":false,"zero":false},"axis":null},
  "y": {"field":"p","type":"quantitative","scale":{"domain":[-8.1,154.5],"nice":false,"zero":false},"axis":{"domain":true,"domainColor":"black","domainWidth":1.6,"ticks":false,"labels":false,"grid":false,"title":null}}},
 "layer": [
  {"data":{"name":"B2"},"mark":{"type":"line","color":"black","strokeWidth":1.3}},
  {"data":{"name":"shafts"},"transform":[{"filter":"datum.panel==='B2'"}],"mark":{"type":"rule","color":"black","strokeWidth":1.6},"encoding":{"x2":{"field":"t2"},"y2":{"field":"p2"}}},
  {"data":{"name":"heads"},"transform":[{"filter":"datum.panel==='B2'"}],"mark":{"type":"point","filled":true,"opacity":1,"color":"black","size":75},"encoding":{"shape":{"field":"dir","type":"nominal","scale":{"domain":["up","down","left"],"range":["triangle-up","triangle-down","triangle-left"]},"legend":null}}},
  {"data":{"name":"dots"},"transform":[{"filter":"datum.panel==='B2'"}],"mark":{"type":"point","filled":true,"opacity":1,"color":"black","size":42}},
  {"data":{"name":"texts"},"transform":[{"filter":"datum.panel==='B2'&&datum.kind==='note'"}],"mark":{"type":"text","color":"black","fontSize":14,"align":"center","baseline":"middle"},"encoding":{"text":{"field":"txt","type":"nominal"}}},
  {"data":{"name":"texts"},"transform":[{"filter":"datum.panel==='B2'&&datum.kind==='label'"}],"mark":{"type":"text","color":"black","fontSize":14,"align":"right","baseline":"middle","lineHeight":17},"encoding":{"text":{"field":"txt","type":"nominal"}}}
 ]},
{"width": 500, "height": 108,
 "encoding": {"x": {"field":"t","type":"quantitative","scale":{"domain":[0,675],"nice":false,"zero":false},"axis":null},
  "y": {"field":"p","type":"quantitative","scale":{"domain":[-8.1,165.8],"nice":false,"zero":false},"axis":{"domain":true,"domainColor":"black","domainWidth":1.6,"ticks":false,"labels":false,"grid":false,"title":null}}},
 "layer": [
  {"data":{"name":"B3"},"mark":{"type":"line","color":"black","strokeWidth":1.3}},
  {"data":{"name":"tns"},"transform":[{"filter":"datum.panel==='B3'&&datum.kind==='dot'"}],"mark":{"type":"rule","color":"black","strokeWidth":2.5,"strokeDash":[2.5,4.7]},"encoding":{"x2":{"field":"t2"}}},
  {"data":{"name":"tns"},"transform":[{"filter":"datum.panel==='B3'&&datum.kind==='bar'"}],"mark":{"type":"rule","color":"black","strokeWidth":6},"encoding":{"x2":{"field":"t2"}}},
  {"data":{"name":"shafts"},"transform":[{"filter":"datum.panel==='B3'"}],"mark":{"type":"rule","color":"black","strokeWidth":1.6},"encoding":{"x2":{"field":"t2"},"y2":{"field":"p2"}}},
  {"data":{"name":"heads"},"transform":[{"filter":"datum.panel==='B3'"}],"mark":{"type":"point","filled":true,"opacity":1,"color":"black","size":75},"encoding":{"shape":{"field":"dir","type":"nominal","scale":{"domain":["up","down","left"],"range":["triangle-up","triangle-down","triangle-left"]},"legend":null}}},
  {"data":{"name":"texts"},"transform":[{"filter":"datum.panel==='B3'&&datum.kind==='note'"}],"mark":{"type":"text","color":"black","fontSize":14,"align":"center","baseline":"middle"},"encoding":{"text":{"field":"txt","type":"nominal"}}},
  {"data":{"name":"texts"},"transform":[{"filter":"datum.panel==='B3'&&datum.kind==='label'"}],"mark":{"type":"text","color":"black","fontSize":14,"align":"right","baseline":"middle","lineHeight":17},"encoding":{"text":{"field":"txt","type":"nominal"}}}
 ]},
{"width": 500, "height": 109,
 "encoding": {"x": {"field":"t","type":"quantitative","scale":{"domain":[0,675],"nice":false,"zero":false},"axis":null},
  "y": {"field":"p","type":"quantitative","scale":{"domain":[-16.15,159.3],"nice":false,"zero":false},"axis":{"domain":true,"domainColor":"black","domainWidth":1.6,"ticks":false,"labels":false,"grid":false,"title":null}}},
 "layer": [
  {"data":{"name":"B4"},"mark":{"type":"line","color":"black","strokeWidth":1.3}},
  {"data":{"name":"shafts"},"transform":[{"filter":"datum.panel==='B4'"}],"mark":{"type":"rule","color":"black","strokeWidth":1.6},"encoding":{"x2":{"field":"t2"},"y2":{"field":"p2"}}},
  {"data":{"name":"heads"},"transform":[{"filter":"datum.panel==='B4'"}],"mark":{"type":"point","filled":true,"opacity":1,"color":"black","size":75},"encoding":{"shape":{"field":"dir","type":"nominal","scale":{"domain":["up","down","left"],"range":["triangle-up","triangle-down","triangle-left"]},"legend":null}}},
  {"data":{"name":"texts"},"transform":[{"filter":"datum.panel==='B4'&&datum.kind==='note'"}],"mark":{"type":"text","color":"black","fontSize":14,"align":"center","baseline":"middle"},"encoding":{"text":{"field":"txt","type":"nominal"}}},
  {"data":{"name":"texts"},"transform":[{"filter":"datum.panel==='B4'&&datum.kind==='label'"}],"mark":{"type":"text","color":"black","fontSize":14,"align":"right","baseline":"middle","lineHeight":17},"encoding":{"text":{"field":"txt","type":"nominal"}}}
 ]}
]
}
